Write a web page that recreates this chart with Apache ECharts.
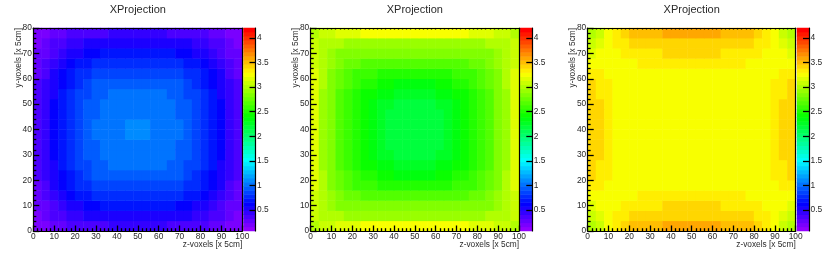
<!DOCTYPE html>
<html>
<head>
<meta charset="utf-8">
<style>html,body{margin:0;padding:0;background:#fff}#c{width:830px;height:259px}</style>
<script src="https://cdn.jsdelivr.net/npm/echarts@6/dist/echarts.min.js"></script>
</head>
<body>
<div id="c"></div>
<script>
const titleText = "XProjection";
const xName = "z-voxels [x 5cm]";
const yName = "y-voxels [x 5cm]";
const zMin = 0.075, zMax = 4.2;
const zTicks = [0.5, 1, 1.5, 2, 2.5, 3, 3.5, 4];
const xCells = ["2","6","10","14","18","22","26","30","34","38","42","46","50","54","58","62","66","70","74","78","82","86","90","94","98"];
const yCells = ["2","6","10","14","18","22","26","30","34","38","42","46","50","54","58","62","66","70","74","78"];

// rows run from y=2 (bottom) to y=78 (top), columns from z=2 to z=98
const valuesA = [
[.20,.23,.27,.30,.33,.36,.38,.39,.40,.41,.42,.42,.42,.42,.42,.41,.40,.39,.38,.36,.33,.30,.27,.23,.20],
[.24,.28,.33,.38,.42,.46,.49,.51,.53,.54,.55,.55,.55,.55,.55,.54,.53,.51,.49,.46,.42,.38,.33,.28,.24],
[.26,.32,.39,.46,.52,.57,.61,.64,.66,.67,.68,.68,.68,.68,.68,.67,.66,.64,.61,.57,.52,.46,.39,.32,.26],
[.29,.36,.45,.54,.61,.67,.72,.75,.78,.79,.80,.80,.80,.80,.80,.79,.78,.75,.72,.67,.61,.54,.45,.36,.29],
[.31,.39,.50,.60,.68,.75,.80,.84,.87,.88,.88,.88,.88,.88,.88,.88,.87,.84,.80,.75,.68,.60,.50,.39,.31],
[.33,.42,.54,.65,.73,.80,.86,.90,.93,.95,.95,.95,.95,.95,.95,.95,.93,.90,.86,.80,.73,.65,.54,.42,.33],
[.34,.45,.57,.68,.76,.83,.89,.94,.98,.99,.99,.99,.99,.99,.99,.99,.98,.94,.89,.83,.76,.68,.57,.45,.34],
[.35,.46,.58,.70,.78,.85,.91,.97,.99,1.00,1.00,1.01,1.01,1.01,1.00,1.00,.99,.97,.91,.85,.78,.70,.58,.46,.35],
[.35,.46,.59,.71,.79,.86,.92,.98,.99,1.00,1.01,1.02,1.02,1.02,1.01,1.00,.99,.98,.92,.86,.79,.71,.59,.46,.35],
[.36,.47,.60,.72,.80,.87,.93,.99,1.00,1.01,1.02,1.07,1.07,1.07,1.02,1.01,1.00,.99,.93,.87,.80,.72,.60,.47,.36],
[.36,.47,.60,.72,.80,.87,.93,.99,1.00,1.01,1.02,1.07,1.07,1.07,1.02,1.01,1.00,.99,.93,.87,.80,.72,.60,.47,.36],
[.35,.46,.59,.71,.79,.86,.92,.98,.99,1.00,1.01,1.02,1.02,1.02,1.01,1.00,.99,.98,.92,.86,.79,.71,.59,.46,.35],
[.35,.46,.58,.70,.78,.85,.91,.97,.99,1.00,1.00,1.01,1.01,1.01,1.00,1.00,.99,.97,.91,.85,.78,.70,.58,.46,.35],
[.34,.45,.57,.68,.76,.83,.89,.94,.98,.99,.99,.99,.99,.99,.99,.99,.98,.94,.89,.83,.76,.68,.57,.45,.34],
[.33,.42,.54,.65,.73,.80,.86,.90,.93,.95,.95,.95,.95,.95,.95,.95,.93,.90,.86,.80,.73,.65,.54,.42,.33],
[.31,.39,.50,.60,.68,.75,.80,.84,.87,.88,.88,.88,.88,.88,.88,.88,.87,.84,.80,.75,.68,.60,.50,.39,.31],
[.29,.36,.45,.54,.61,.67,.72,.75,.78,.79,.80,.80,.80,.80,.80,.79,.78,.75,.72,.67,.61,.54,.45,.36,.29],
[.26,.32,.39,.46,.52,.57,.61,.64,.66,.67,.68,.68,.68,.68,.68,.67,.66,.64,.61,.57,.52,.46,.39,.32,.26],
[.24,.28,.33,.38,.42,.46,.49,.51,.53,.54,.55,.55,.55,.55,.55,.54,.53,.51,.49,.46,.42,.38,.33,.28,.24],
[.20,.23,.27,.30,.33,.36,.38,.39,.40,.41,.42,.42,.42,.42,.42,.41,.40,.39,.38,.36,.33,.30,.27,.23,.20]
];
const valuesB = [
[3.00,3.05,3.10,3.14,3.18,3.20,3.22,3.24,3.25,3.25,3.25,3.25,3.25,3.25,3.25,3.25,3.25,3.24,3.22,3.20,3.18,3.14,3.10,3.05,3.00],
[3.05,3.00,2.98,2.97,2.96,2.96,2.95,2.95,2.95,2.95,2.95,2.95,2.95,2.95,2.95,2.95,2.95,2.95,2.95,2.96,2.96,2.97,2.98,3.00,3.05],
[3.10,2.97,2.91,2.87,2.85,2.83,2.82,2.81,2.80,2.80,2.80,2.80,2.80,2.80,2.80,2.80,2.80,2.81,2.82,2.83,2.85,2.87,2.91,2.97,3.10],
[3.12,2.97,2.88,2.81,2.76,2.72,2.70,2.68,2.67,2.66,2.65,2.65,2.65,2.65,2.65,2.66,2.67,2.68,2.70,2.72,2.76,2.81,2.88,2.97,3.12],
[3.13,2.97,2.85,2.76,2.69,2.63,2.60,2.57,2.54,2.52,2.50,2.50,2.50,2.50,2.50,2.52,2.54,2.57,2.60,2.63,2.69,2.76,2.85,2.97,3.13],
[3.14,2.97,2.83,2.73,2.64,2.57,2.52,2.48,2.44,2.40,2.38,2.37,2.37,2.37,2.38,2.40,2.44,2.48,2.52,2.57,2.64,2.73,2.83,2.97,3.14],
[3.15,2.96,2.82,2.71,2.61,2.53,2.46,2.41,2.36,2.31,2.28,2.27,2.27,2.27,2.28,2.31,2.36,2.41,2.46,2.53,2.61,2.71,2.82,2.96,3.15],
[3.15,2.96,2.81,2.69,2.59,2.49,2.42,2.36,2.30,2.24,2.21,2.20,2.20,2.20,2.21,2.24,2.30,2.36,2.42,2.49,2.59,2.69,2.81,2.96,3.15],
[3.15,2.95,2.80,2.68,2.58,2.48,2.40,2.34,2.26,2.21,2.18,2.17,2.17,2.17,2.18,2.21,2.26,2.34,2.40,2.48,2.58,2.68,2.80,2.95,3.15],
[3.15,2.95,2.80,2.68,2.58,2.48,2.40,2.33,2.25,2.20,2.17,2.15,2.15,2.15,2.17,2.20,2.25,2.33,2.40,2.48,2.58,2.68,2.80,2.95,3.15],
[3.15,2.95,2.80,2.68,2.58,2.48,2.40,2.33,2.25,2.20,2.17,2.15,2.15,2.15,2.17,2.20,2.25,2.33,2.40,2.48,2.58,2.68,2.80,2.95,3.15],
[3.15,2.95,2.80,2.68,2.58,2.48,2.40,2.34,2.26,2.21,2.18,2.17,2.17,2.17,2.18,2.21,2.26,2.34,2.40,2.48,2.58,2.68,2.80,2.95,3.15],
[3.15,2.96,2.81,2.69,2.59,2.49,2.42,2.36,2.30,2.24,2.21,2.20,2.20,2.20,2.21,2.24,2.30,2.36,2.42,2.49,2.59,2.69,2.81,2.96,3.15],
[3.15,2.96,2.82,2.71,2.61,2.53,2.46,2.41,2.36,2.31,2.28,2.27,2.27,2.27,2.28,2.31,2.36,2.41,2.46,2.53,2.61,2.71,2.82,2.96,3.15],
[3.14,2.97,2.83,2.73,2.64,2.57,2.52,2.48,2.44,2.40,2.38,2.37,2.37,2.37,2.38,2.40,2.44,2.48,2.52,2.57,2.64,2.73,2.83,2.97,3.14],
[3.13,2.97,2.85,2.76,2.69,2.63,2.60,2.57,2.54,2.52,2.50,2.50,2.50,2.50,2.50,2.52,2.54,2.57,2.60,2.63,2.69,2.76,2.85,2.97,3.13],
[3.12,2.97,2.88,2.81,2.76,2.72,2.70,2.68,2.67,2.66,2.65,2.65,2.65,2.65,2.65,2.66,2.67,2.68,2.70,2.72,2.76,2.81,2.88,2.97,3.12],
[3.10,2.97,2.91,2.87,2.85,2.83,2.82,2.81,2.80,2.80,2.80,2.80,2.80,2.80,2.80,2.80,2.80,2.81,2.82,2.83,2.85,2.87,2.91,2.97,3.10],
[3.05,3.00,2.98,2.97,2.96,2.96,2.95,2.95,2.95,2.95,2.95,2.95,2.95,2.95,2.95,2.95,2.95,2.95,2.95,2.96,2.96,2.97,2.98,3.00,3.05],
[3.00,3.05,3.10,3.14,3.18,3.20,3.22,3.24,3.25,3.25,3.25,3.25,3.25,3.25,3.25,3.25,3.25,3.24,3.22,3.20,3.18,3.14,3.10,3.05,3.00]
];
const valuesC = [
[3.02,3.12,3.24,3.31,3.38,3.46,3.47,3.49,3.50,3.55,3.55,3.55,3.55,3.55,3.55,3.55,3.50,3.49,3.47,3.46,3.38,3.31,3.24,3.12,3.02],
[3.10,3.18,3.25,3.30,3.33,3.38,3.40,3.41,3.43,3.44,3.45,3.45,3.45,3.45,3.45,3.44,3.43,3.41,3.40,3.38,3.33,3.30,3.25,3.18,3.10],
[3.18,3.22,3.25,3.27,3.30,3.32,3.34,3.36,3.37,3.38,3.38,3.38,3.38,3.38,3.38,3.38,3.37,3.36,3.34,3.32,3.30,3.27,3.25,3.22,3.18],
[3.25,3.27,3.25,3.26,3.27,3.28,3.30,3.30,3.30,3.30,3.30,3.30,3.30,3.30,3.30,3.30,3.30,3.30,3.30,3.28,3.27,3.26,3.25,3.27,3.25],
[3.31,3.30,3.28,3.26,3.25,3.26,3.26,3.26,3.26,3.26,3.26,3.26,3.26,3.26,3.26,3.26,3.26,3.26,3.26,3.26,3.25,3.26,3.28,3.30,3.31],
[3.39,3.35,3.30,3.27,3.25,3.25,3.25,3.25,3.25,3.25,3.25,3.25,3.25,3.25,3.25,3.25,3.25,3.25,3.25,3.25,3.25,3.27,3.30,3.35,3.39],
[3.41,3.37,3.31,3.27,3.25,3.25,3.25,3.25,3.25,3.25,3.25,3.25,3.25,3.25,3.25,3.25,3.25,3.25,3.25,3.25,3.25,3.27,3.31,3.37,3.41],
[3.43,3.38,3.32,3.27,3.25,3.25,3.25,3.25,3.25,3.25,3.25,3.25,3.25,3.25,3.25,3.25,3.25,3.25,3.25,3.25,3.25,3.27,3.32,3.38,3.43],
[3.43,3.38,3.32,3.27,3.25,3.25,3.25,3.25,3.25,3.25,3.25,3.25,3.25,3.25,3.25,3.25,3.25,3.25,3.25,3.25,3.25,3.27,3.32,3.38,3.43],
[3.44,3.38,3.32,3.27,3.25,3.25,3.25,3.25,3.25,3.25,3.25,3.25,3.25,3.25,3.25,3.25,3.25,3.25,3.25,3.25,3.25,3.27,3.32,3.38,3.44],
[3.44,3.38,3.32,3.27,3.25,3.25,3.25,3.25,3.25,3.25,3.25,3.25,3.25,3.25,3.25,3.25,3.25,3.25,3.25,3.25,3.25,3.27,3.32,3.38,3.44],
[3.43,3.38,3.32,3.27,3.25,3.25,3.25,3.25,3.25,3.25,3.25,3.25,3.25,3.25,3.25,3.25,3.25,3.25,3.25,3.25,3.25,3.27,3.32,3.38,3.43],
[3.43,3.38,3.32,3.27,3.25,3.25,3.25,3.25,3.25,3.25,3.25,3.25,3.25,3.25,3.25,3.25,3.25,3.25,3.25,3.25,3.25,3.27,3.32,3.38,3.43],
[3.41,3.37,3.31,3.27,3.25,3.25,3.25,3.25,3.25,3.25,3.25,3.25,3.25,3.25,3.25,3.25,3.25,3.25,3.25,3.25,3.25,3.27,3.31,3.37,3.41],
[3.39,3.35,3.30,3.27,3.25,3.25,3.25,3.25,3.25,3.25,3.25,3.25,3.25,3.25,3.25,3.25,3.25,3.25,3.25,3.25,3.25,3.27,3.30,3.35,3.39],
[3.31,3.30,3.28,3.26,3.25,3.26,3.26,3.26,3.26,3.26,3.26,3.26,3.26,3.26,3.26,3.26,3.26,3.26,3.26,3.26,3.25,3.26,3.28,3.30,3.31],
[3.25,3.27,3.25,3.26,3.27,3.28,3.30,3.30,3.30,3.30,3.30,3.30,3.30,3.30,3.30,3.30,3.30,3.30,3.30,3.28,3.27,3.26,3.25,3.27,3.25],
[3.18,3.22,3.25,3.27,3.30,3.32,3.34,3.36,3.37,3.38,3.38,3.38,3.38,3.38,3.38,3.38,3.37,3.36,3.34,3.32,3.30,3.27,3.25,3.22,3.18],
[3.10,3.18,3.25,3.30,3.33,3.38,3.40,3.41,3.43,3.44,3.45,3.45,3.45,3.45,3.45,3.44,3.43,3.41,3.40,3.38,3.33,3.30,3.25,3.18,3.10],
[3.02,3.12,3.24,3.31,3.38,3.46,3.47,3.49,3.50,3.55,3.55,3.55,3.55,3.55,3.55,3.55,3.50,3.49,3.47,3.46,3.38,3.31,3.24,3.12,3.02]
];

const panels = [
  {values: valuesA, left: 33.3, width: 209, barLeft: 243.5},
  {values: valuesB, left: 310.7, width: 208.3, barLeft: 520.3},
  {values: valuesC, left: 587.7, width: 208, barLeft: 797}
];
const plotTop = 28, plotHeight = 203, barWidth = 12;
const black = '#000', textColor = '#2a2a2a', fontName = 'Liberation Sans';

// ROOT "pretty" palette: 50 bands, violet to red
const bandCount = 50;
const bandColor = i => `hsl(${280 - (i + 1) * 5.6},100%,50%)`;
const bandOf = z => Math.max(0, Math.min(bandCount - 1, Math.floor((z - zMin) / (zMax - zMin) * bandCount)));
const bandCats = Array.from({length: bandCount}, (_, i) => String(i));

const grids = [], xAxes = [], yAxes = [], seriesList = [], titles = [], graphics = [];
const tickLabel = {color: textColor, fontFamily: fontName, fontSize: 8.4};

panels.forEach((p) => {
  const g = grids.length;
  grids.push({left: p.left, top: plotTop, width: p.width, height: plotHeight, containLabel: false, show: false});
  const xi = xAxes.length, yi = yAxes.length;
  const line = {show: true, onZero: false, lineStyle: {color: black, width: 1.2}};
  const tick = (len) => ({show: true, inside: true, length: len, lineStyle: {color: black, width: 1.3}});
  const minor = (len) => ({show: true, splitNumber: 5, length: len, lineStyle: {color: black, width: 1.3}});
  xAxes.push(
    {type: 'value', gridIndex: g, position: 'bottom', min: 0, max: 100, interval: 10, z: 10,
     axisLine: line, axisTick: tick(5.5), minorTick: minor(2.8), splitLine: {show: false}, minorSplitLine: {show: false},
     axisLabel: {...tickLabel, margin: 2, hideOverlap: false, showMinLabel: true, showMaxLabel: true}},
    {type: 'value', gridIndex: g, position: 'top', min: 0, max: 100, interval: 10, z: 10,
     axisLine: line, axisTick: tick(1.5), minorTick: minor(1.5), splitLine: {show: false}, axisLabel: {show: false}},
    {type: 'category', gridIndex: g, data: xCells, show: false, boundaryGap: true}
  );
  yAxes.push(
    {type: 'value', gridIndex: g, position: 'left', min: 0, max: 80, interval: 10, z: 10,
     axisLine: line, axisTick: tick(6), minorTick: minor(3), splitLine: {show: false}, minorSplitLine: {show: false},
     axisLabel: {...tickLabel, margin: 1.5, hideOverlap: false, showMinLabel: true, showMaxLabel: true}},
    {type: 'value', gridIndex: g, position: 'right', min: 0, max: 80, z: 10,
     axisLine: line, axisTick: {show: false}, splitLine: {show: false}, axisLabel: {show: false}},
    {type: 'category', gridIndex: g, data: yCells, show: false, boundaryGap: true}
  );
  const cells = [];
  p.values.forEach((row, j) => row.forEach((z, i) => {
    cells.push({value: [i, j, z], itemStyle: {color: bandColor(bandOf(z))}});
  }));
  seriesList.push({type: 'heatmap', xAxisIndex: xi + 2, yAxisIndex: yi + 2, data: cells, z: 1, silent: true, progressive: 0});

  // colour bar
  const gb = grids.length;
  grids.push({left: p.barLeft, top: plotTop, width: barWidth, height: plotHeight, containLabel: false, show: false});
  const xb = xAxes.length, yb = yAxes.length;
  xAxes.push({type: 'category', gridIndex: gb, data: ['z'], show: false});
  yAxes.push(
    {type: 'category', gridIndex: gb, data: bandCats, show: false},
    {type: 'value', gridIndex: gb, position: 'right', min: zMin, max: zMax, z: 10,
     axisLine: {show: true, onZero: false, lineStyle: {color: black, width: 1.2}},
     axisTick: {show: true, inside: true, length: 6, customValues: zTicks, lineStyle: {color: black, width: 1.3}},
     splitLine: {show: false},
     axisLabel: {...tickLabel, margin: 1.5, customValues: zTicks, hideOverlap: false}}
  );
  seriesList.push({type: 'heatmap', xAxisIndex: xb, yAxisIndex: yb, z: 1, silent: true, progressive: 0,
    data: bandCats.map((c, i) => ({value: [0, i, i], itemStyle: {color: bandColor(i)}}))});

  titles.push({text: titleText, left: p.left + p.width / 2, top: 4, textAlign: 'center', padding: 0,
    textStyle: {color: textColor, fontFamily: fontName, fontSize: 11, fontWeight: 'normal'}});
  graphics.push(
    {type: 'text', x: p.left + p.width, y: 245, silent: true,
     style: {text: xName, fill: textColor, font: `8.3px "${fontName}"`, textAlign: 'right', textVerticalAlign: 'middle'}},
    {type: 'text', x: p.left - 14.5, y: 28, rotation: Math.PI / 2, silent: true,
     style: {text: yName, fill: textColor, font: `8.3px "${fontName}"`, textAlign: 'right', textVerticalAlign: 'middle'}}
  );
});

const chart = echarts.init(document.getElementById('c'), null, {renderer: 'canvas'});
chart.setOption({animation: false, backgroundColor: '#fff', tooltip: {show: false},
  title: titles, grid: grids, xAxis: xAxes, yAxis: yAxes, series: seriesList, graphic: graphics});
</script>
</body>
</html>
